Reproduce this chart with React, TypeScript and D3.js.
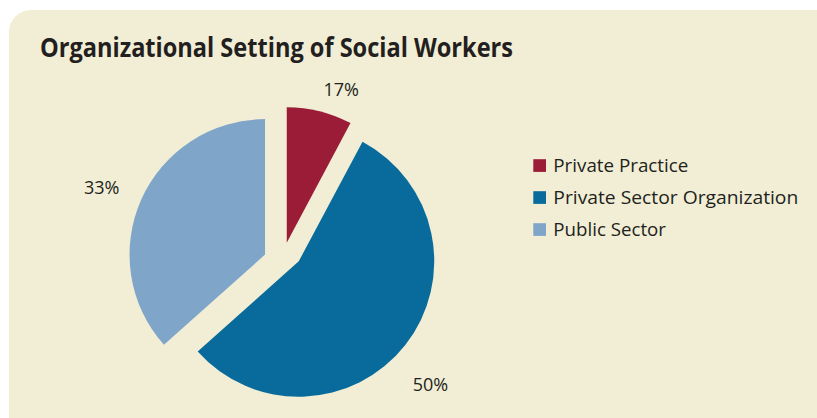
import React from "react";
import * as d3 from "d3";

// ---- data ----
const categories = ["Private Practice", "Private Sector Organization", "Public Sector"];
const percentLabels = ["17%", "50%", "33%"];
// slice sizes as drawn in the picture (share of the full circle)
const sliceShares = [7.8, 55.6, 36.6];
const colors = ["#9b1c37", "#086b9b", "#7fa6c9"];

// ---- layout ----
const W = 817;
const H = 418;
const cx = 284.8;
const cy = 250.4;
const R = 135.5;
const explode = [
  { d: 8, a: 14 },
  { d: 17.7, a: 128 },
  { d: 20.2, a: 258 },
];
const labelPolar = [
  { a: 19.5, r: 163 },
  { a: 133, r: 180 },
  { a: 292.3, r: 176.5 },
];
const legendWidths = [135, 245, 112.7];
const textColor = "#231f20";
const font = "'Open Sans', 'Noto Sans', sans-serif";

const rad = (deg: number) => (deg * Math.PI) / 180;

export default function App() {
  const pie = d3
    .pie<number>()
    .sort(null)
    .value((d) => d)
    .startAngle(0)
    .endAngle(2 * Math.PI);
  const arcs = pie(sliceShares);
  const arc = d3.arc<d3.PieArcDatum<number>>().innerRadius(0).outerRadius(R);

  const legendY = d3
    .scalePoint<string>()
    .domain(categories)
    .range([165.5, 229.5]);

  return (
    <svg
      width={W}
      height={H}
      style={{ position: "fixed", left: 0, top: 0, background: "#ffffff" }}
    >
      <rect x={9} y={10} width={W + 40} height={H + 40} rx={22} ry={22} fill="#f1eed5" />
      <text
        x={40}
        y={57.3}
        fontFamily={font}
        fontWeight={700}
        fontSize={26}
        fill={textColor}
        textLength={473}
        lengthAdjust="spacingAndGlyphs"
      >
        Organizational Setting of Social Workers
      </text>

      {arcs.map((a, i) => {
        const e = explode[i];
        const ox = cx + e.d * Math.sin(rad(e.a));
        const oy = cy - e.d * Math.cos(rad(e.a));
        const lp = labelPolar[i];
        const lx = ox + lp.r * Math.sin(rad(lp.a));
        const ly = oy - lp.r * Math.cos(rad(lp.a));
        return (
          <g key={categories[i]}>
            <path d={arc(a) || ""} transform={`translate(${ox},${oy})`} fill={colors[i]} />
            <text
              x={lx}
              y={ly + 6.6}
              textAnchor="middle"
              fontFamily={font}
              fontSize={18}
              fill={textColor}
            >
              {percentLabels[i]}
            </text>
          </g>
        );
      })}

      {categories.map((c, i) => {
        const y = legendY(c) as number;
        return (
          <g key={c}>
            <rect x={533.3} y={y - 6.3} width={12.7} height={12.7} fill={colors[i]} />
            <text
              x={553.3}
              y={y + 6.6}
              fontFamily={font}
              fontSize={17.5}
              fill={textColor}
              textLength={legendWidths[i]}
              lengthAdjust="spacingAndGlyphs"
            >
              {c}
            </text>
          </g>
        );
      })}
    </svg>
  );
}
